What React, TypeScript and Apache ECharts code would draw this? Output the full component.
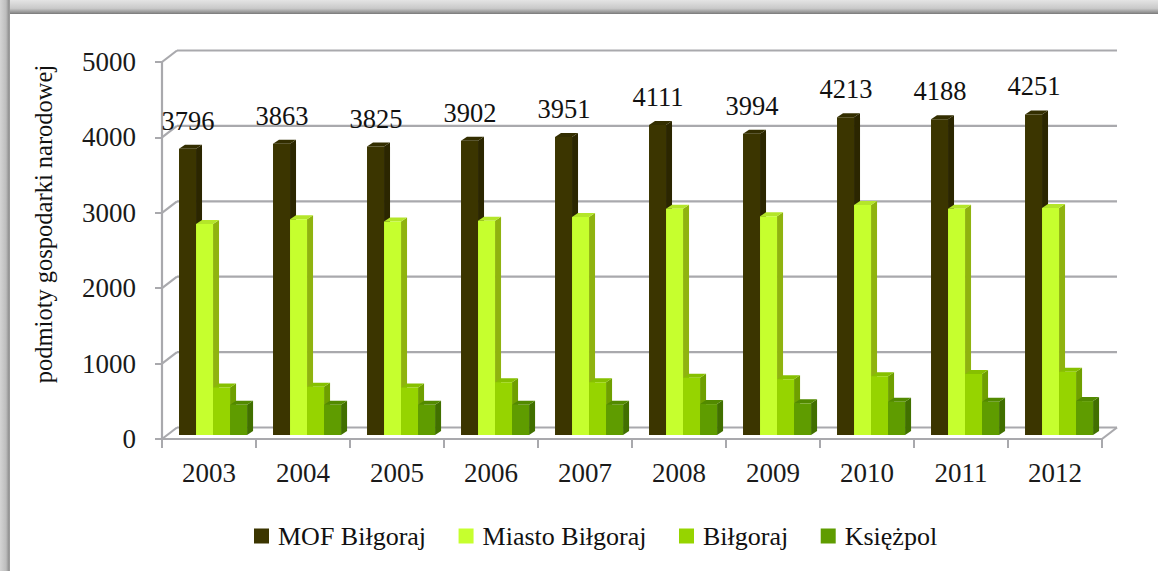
import React, { useEffect, useRef } from "react";
import * as echarts from "echarts";

const categories = ["2003", "2004", "2005", "2006", "2007", "2008", "2009", "2010", "2011", "2012"];
const mofBilgoraj = [3796, 3863, 3825, 3902, 3951, 4111, 3994, 4213, 4188, 4251];
const miastoBilgoraj = [2800, 2860, 2830, 2840, 2890, 3000, 2900, 3050, 3000, 3010];
const bilgoraj = [630, 640, 630, 700, 700, 760, 740, 780, 810, 840];
const ksiezpol = [400, 400, 400, 400, 400, 410, 420, 440, 440, 450];
const yTicks = [0, 1000, 2000, 3000, 4000, 5000];

const SERIF = "Liberation Serif";
const GRID_LINE = "#a9a9ad";
const BACK_DX = 15;
const BACK_DY = -11.5;

function makeBar(name: string, values: number[], idx: number, front: string, side: string, top: string, labelled: boolean) {
  return {
    type: "custom",
    name,
    z: 5 + idx,
    clip: false,
    itemStyle: { color: front },
    data: values.map((v, i) => [i, v]),
    encode: { x: 0, y: 1 },
    renderItem: (_p: any, api: any) => {
      const band = api.size([1, 0])[0];
      const w = band * 0.181;
      const c = api.coord([api.value(0), 0]);
      const t = api.coord([api.value(0), api.value(1)]);
      const x0 = c[0] - band * 0.319 + idx * w;
      const x1 = x0 + w;
      const yb = c[1] - 4;
      const yt = t[1] - 4;
      const dx = 6;
      const dy = -4;
      const children: any[] = [
        { type: "polygon", shape: { points: [[x1, yt], [x1 + dx, yt + dy], [x1 + dx, yb + dy], [x1, yb]] }, style: { fill: side } },
        { type: "polygon", shape: { points: [[x0, yt], [x0 + dx, yt + dy], [x1 + dx, yt + dy], [x1, yt]] }, style: { fill: top } },
        { type: "rect", shape: { x: x0, y: yt, width: w, height: yb - yt }, style: { fill: front } },
      ];
      if (labelled) {
        children.push({
          type: "text",
          x: x0 + 9,
          y: yt + dy - 24,
          style: {
            text: String(api.value(1)),
            font: `26.5px "${SERIF}"`,
            fill: "#111111",
            align: "center",
            verticalAlign: "middle",
          },
        });
      }
      return { type: "group", children };
    },
  };
}

export default function App() {
  const ref = useRef<HTMLDivElement>(null);
  useEffect(() => {
    document.body.style.margin = "0";
    document.body.style.background = "#ffffff";
    const chart = echarts.init(ref.current!, undefined, { renderer: "svg" });
    const wall = {
      type: "custom",
      name: "walls",
      z: 1,
      clip: false,
      silent: true,
      data: yTicks.map((v) => [v]),
      encode: { y: 0 },
      renderItem: (_p: any, api: any) => {
        const v = api.value(0);
        const left = api.coord([0, v]);
        const band = api.size([1, 0])[0];
        const x0 = left[0] - band / 2;
        const x1 = x0 + band * categories.length;
        const y = left[1];
        const ls = { stroke: GRID_LINE, lineWidth: 2.2, fill: "none" };
        const children: any[] = [
          { type: "line", shape: { x1: x0, y1: y, x2: x0 + BACK_DX, y2: y + BACK_DY }, style: ls },
          { type: "line", shape: { x1: x0 + BACK_DX, y1: y + BACK_DY, x2: x1 + BACK_DX, y2: y + BACK_DY }, style: ls },
        ];
        if (v === 0) {
          children.push({ type: "line", shape: { x1, y1: y, x2: x1 + BACK_DX, y2: y + BACK_DY }, style: ls });
        }
        return { type: "group", children };
      },
    };
    chart.setOption({
      animation: false,
      backgroundColor: "#ffffff",
      grid: { left: 162, right: 56, top: 62, bottom: 132 },
      xAxis: {
        type: "category",
        data: categories,
        boundaryGap: true,
        axisLine: { show: true, lineStyle: { color: GRID_LINE, width: 2.2 } },
        axisTick: { show: true, length: 9, alignWithLabel: false, lineStyle: { color: GRID_LINE, width: 2 } },
        axisLabel: { color: "#1a1a1a", fontFamily: SERIF, fontSize: 27, margin: 20 },
      },
      yAxis: {
        type: "value",
        min: 0,
        max: 5000,
        interval: 1000,
        splitLine: { show: false },
        axisLine: { show: true, lineStyle: { color: GRID_LINE, width: 2.2 } },
        axisTick: { show: true, length: 7, lineStyle: { color: GRID_LINE, width: 2 } },
        axisLabel: { color: "#1a1a1a", fontFamily: SERIF, fontSize: 27, margin: 26, formatter: (v: number) => String(v) },
      },
      legend: {
        left: 249,
        top: 518,
        icon: "rect",
        itemWidth: 15,
        itemHeight: 15,
        itemGap: 32.5,
        data: ["MOF Biłgoraj", "Miasto Biłgoraj", "Biłgoraj", "Księżpol"],
        textStyle: { color: "#111111", fontFamily: SERIF, fontSize: 26, padding: [0, 0, 0, 4] },
      },
      series: [
        wall,
        makeBar("MOF Biłgoraj", mofBilgoraj, 0, "#3b3500", "#2b2600", "#332e00", true),
        makeBar("Miasto Biłgoraj", miastoBilgoraj, 1, "#c6ff2e", "#8fb30f", "#b4e62a", false),
        makeBar("Biłgoraj", bilgoraj, 2, "#96d400", "#6f9f00", "#86c000", false),
        makeBar("Księżpol", ksiezpol, 3, "#5f9c00", "#417000", "#528a00", false),
      ],
      graphic: [
        {
          type: "rect",
          shape: { x: 0, y: 0, width: 1158, height: 14 },
          style: {
            fill: new echarts.graphic.LinearGradient(0, 0, 0, 1, [
              { offset: 0, color: "#e4e4e4" },
              { offset: 0.6, color: "#c9c9c9" },
              { offset: 0.92, color: "#8c8c8c" },
              { offset: 1, color: "#777777" },
            ]),
          },
        },
        {
          type: "rect",
          shape: { x: 0, y: 0, width: 10, height: 571 },
          style: {
            fill: new echarts.graphic.LinearGradient(0, 0, 1, 0, [
              { offset: 0, color: "#d4d4d4" },
              { offset: 0.6, color: "#bdbdbd" },
              { offset: 0.9, color: "#8f8f8f" },
              { offset: 1, color: "#a8a8a8" },
            ]),
          },
        },
        {
          type: "text",
          x: 43,
          y: 224,
          rotation: Math.PI / 2,
          style: {
            text: "podmioty gospodarki narodowej",
            font: `24.5px "${SERIF}"`,
            fill: "#111111",
            align: "center",
            verticalAlign: "middle",
          },
        },
      ],
    });
    return () => chart.dispose();
  }, []);
  return <div ref={ref} style={{ width: 1158, height: 571 }} />;
}
